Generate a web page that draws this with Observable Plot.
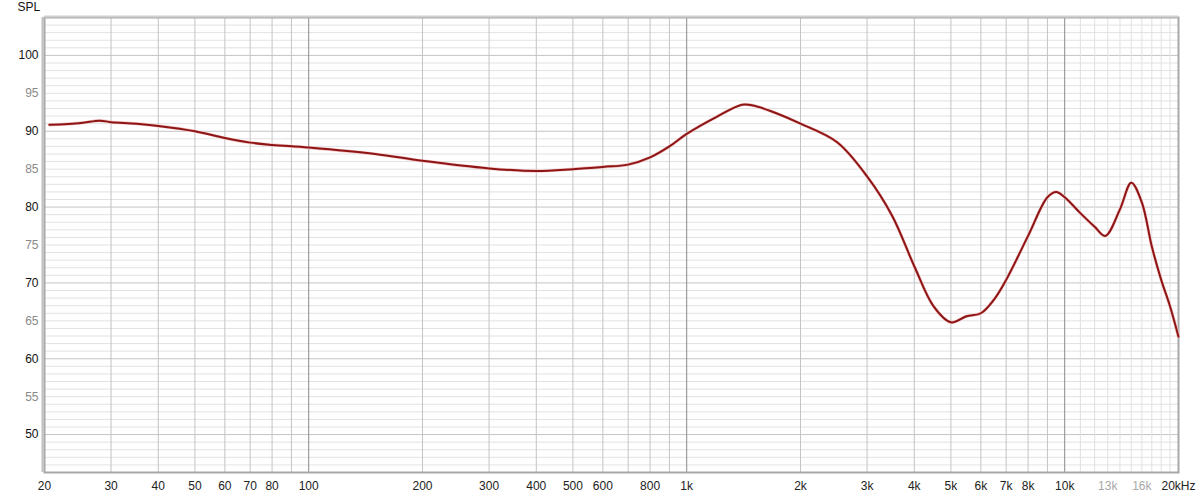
<!DOCTYPE html>
<html>
<head>
<meta charset="utf-8">
<script src="https://cdn.jsdelivr.net/npm/d3@7"></script>
<script src="https://cdn.jsdelivr.net/npm/@observablehq/plot@0.6"></script>
<style>
  html, body { margin: 0; padding: 0; background: #fff; }
  #chart { width: 1200px; height: 496px; }
</style>
</head>
<body>
<div id="chart"></div>
<script>
// Frequency response
const freqs = [20.6, 25, 28, 30, 35, 40, 50, 60, 70, 80, 100, 150, 200, 300, 400, 500, 600, 700, 800, 900,
  1000, 1200, 1400, 1500, 1700, 2000, 2500, 3000, 3500, 4000, 4500, 5000, 5500, 6000, 6500, 7000,
  8000, 9000, 9500, 10000, 11000, 12000, 12800, 14000, 15000, 16000, 17000, 18000, 19000, 20000];
const spl = [90.85, 91.1, 91.4, 91.2, 91.0, 90.7, 90.0, 89.1, 88.5, 88.2, 87.85, 87.0, 86.1, 85.1, 84.75, 85.0, 85.3, 85.6, 86.55, 88.0,
  89.65, 91.9, 93.5, 93.4, 92.5, 91.0, 88.55, 84.05, 78.8, 72.2, 66.9, 64.8, 65.6, 66.0, 67.8, 70.4,
  76.2, 81.3, 82.0, 81.3, 79.2, 77.4, 76.2, 79.7, 83.2, 80.6, 74.8, 70.4, 66.9, 62.9];

// Axis ticks
const xTickValues = [20, 30, 40, 50, 60, 70, 80, 100, 200, 300, 400, 500, 600, 800, 1000, 2000, 3000, 4000, 5000, 6000, 7000, 8000, 10000, 13000, 16000, 20000];
const xTickLabels = ["20", "30", "40", "50", "60", "70", "80", "100", "200", "300", "400", "500", "600", "800", "1k", "2k", "3k", "4k", "5k", "6k", "7k", "8k", "10k", "13k", "16k", "20kHz"];
const xFaintLabels = ["13k", "16k"];
const yTickValues = [50, 55, 60, 65, 70, 75, 80, 85, 90, 95, 100];

// Gridlines
const gridXMid = [30, 40, 50, 60, 70, 80, 90, 200, 300, 400, 500, 600, 700, 800, 900, 2000, 3000, 4000, 5000, 6000, 7000, 8000, 9000];
const gridXMajor = [100, 1000, 10000];
const gridXFaint = [11000, 12000, 13000, 14000, 15000, 16000, 17000, 18000, 19000];
const gridYMinor = d3.range(46, 105, 1).filter(v => v % 10 !== 0);
const gridYMajor = [50, 60, 70, 80, 90, 100];

const data = freqs.map((f, i) => ({f, v: spl[i]}));
const xLabels = xTickValues.map((v, i) => ({v, label: xTickLabels[i], faint: xFaintLabels.includes(xTickLabels[i])}));

const plot = Plot.plot({
  width: 1200,
  height: 496,
  marginLeft: 44,
  marginRight: 22,
  marginTop: 17,
  marginBottom: 24,
  style: {fontFamily: "'Liberation Sans', Arial, sans-serif", fontSize: "12px", background: "#fff"},
  x: {type: "log", domain: [20, 20000], range: [44, 1178], axis: null},
  y: {domain: [45, 105], axis: null},
  marks: [
    Plot.ruleY(gridYMinor, {stroke: "#e2e2e2", strokeWidth: 1}),
    Plot.ruleY(gridYMajor, {stroke: "#c4c4c4", strokeWidth: 1}),
    Plot.ruleX(gridXFaint, {stroke: "#e0e0e0", strokeWidth: 1}),
    Plot.ruleX(gridXMid, {stroke: "#c4c4c4", strokeWidth: 1}),
    Plot.ruleX(gridXMajor, {stroke: "#8a8a8a", strokeWidth: 1}),
    Plot.frame({stroke: "#a8a8a8", strokeWidth: 2}),
    Plot.ruleX([20], {stroke: "#c0c0c0", strokeWidth: 2, dx: -2}),
    Plot.ruleY([105], {stroke: "#d0d0d0", strokeWidth: 2, dy: -1}),
    Plot.line(data, {x: "f", y: "v", stroke: "#f3c6c6", strokeWidth: 3.2, curve: "catmull-rom"}),
    Plot.line(data, {x: "f", y: "v", stroke: "#8e1515", strokeWidth: 2, curve: "catmull-rom"}),
    Plot.text(xLabels, {
      x: "v", text: "label", frameAnchor: "bottom", dy: 14, lineAnchor: "middle",
      fill: d => d.faint ? "#a8a8a8" : "#222"
    }),
    Plot.text(yTickValues, {
      y: d => d, text: d => String(d), frameAnchor: "left", dx: -6, textAnchor: "end",
      fill: d => d % 10 === 0 ? "#111" : "#8a8a8a"
    }),
    Plot.text(["SPL"], {frameAnchor: "top-left", dx: -27, dy: -10, textAnchor: "start", lineAnchor: "middle", fill: "#111"})
  ]
});
document.getElementById("chart").appendChild(plot);
</script>
</body>
</html>
